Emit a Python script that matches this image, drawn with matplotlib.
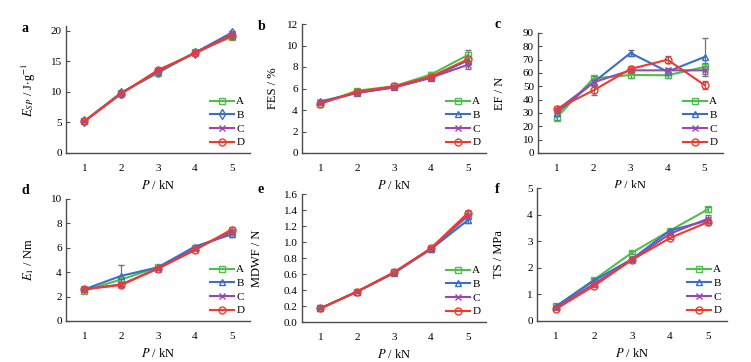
import matplotlib
matplotlib.use('Agg')
import matplotlib.pyplot as plt

plt.rcParams['font.family'] = ['Liberation Serif', 'DejaVu Serif']
plt.rcParams['mathtext.fontset'] = 'stix'

P = [1, 2, 3, 4, 5]
groups = ['A', 'B', 'C', 'D']

# a: specific energy
esp = {'A': [5.2, 9.9, 13.1, 16.5, 19.0],
       'B': [5.2, 9.8, 13.3, 16.4, 19.7],
       'C': [5.2, 9.8, 13.4, 16.4, 19.5],
       'D': [5.2, 9.7, 13.6, 16.3, 19.2]}
esp_err = {'A': [0.2, 0.3, 0.3, 0.3, 0.3],
           'B': [0.2, 0.3, 0.3, 0.3, 0.3],
           'C': [0.2, 0.3, 0.3, 0.3, 0.3],
           'D': [0.2, 0.3, 0.3, 0.3, 0.3]}

# b: FES
fes = {'A': [4.6, 5.8, 6.2, 7.3, 9.1],
       'B': [4.8, 5.6, 6.1, 7.0, 8.6],
       'C': [4.7, 5.6, 6.1, 7.0, 8.2],
       'D': [4.6, 5.7, 6.2, 7.1, 8.7]}
fes_err = {'A': [0.1, 0.2, 0.1, 0.2, 0.5],
           'B': [0.1, 0.2, 0.1, 0.2, 0.4],
           'C': [0.1, 0.2, 0.1, 0.2, 0.4],
           'D': [0.1, 0.2, 0.1, 0.2, 0.3]}

# c: EF
ef = {'A': [26.5, 56.0, 58.5, 58.3, 64.5],
      'B': [30.0, 53.0, 75.0, 61.0, 72.0],
      'C': [32.0, 53.0, 62.0, 62.0, 62.0],
      'D': [33.0, 47.0, 63.0, 70.0, 51.0]}
ef_err = {'A': [2.0, 2.0, 2.0, 2.0, 3.0],
          'B': [2.0, 2.0, 2.5, 2.0, 14.0],
          'C': [2.0, 2.0, 2.0, 2.0, 3.0],
          'D': [2.0, 3.5, 2.0, 2.5, 3.0]}

# d: E1
e1 = {'A': [2.5, 3.4, 4.4, 6.0, 7.3],
      'B': [2.6, 3.7, 4.4, 6.1, 7.1],
      'C': [2.6, 3.0, 4.3, 5.9, 7.3],
      'D': [2.6, 2.95, 4.3, 5.8, 7.5]}
e1_err = {'A': [0.1, 0.2, 0.1, 0.1, 0.2],
          'B': [0.1, 0.85, 0.1, 0.1, 0.2],
          'C': [0.1, 0.2, 0.1, 0.1, 0.2],
          'D': [0.1, 0.2, 0.1, 0.1, 0.2]}

# e: MDWF
mdwf = {'A': [0.17, 0.38, 0.62, 0.91, 1.32],
        'B': [0.17, 0.38, 0.61, 0.91, 1.27],
        'C': [0.17, 0.38, 0.62, 0.92, 1.33],
        'D': [0.17, 0.38, 0.62, 0.92, 1.36]}
mdwf_err = {'A': [0.01, 0.01, 0.01, 0.02, 0.03],
            'B': [0.01, 0.01, 0.01, 0.02, 0.03],
            'C': [0.01, 0.01, 0.01, 0.02, 0.03],
            'D': [0.01, 0.01, 0.01, 0.02, 0.03]}

# f: TS
ts = {'A': [0.55, 1.55, 2.57, 3.40, 4.20],
      'B': [0.55, 1.52, 2.33, 3.40, 3.78],
      'C': [0.50, 1.40, 2.30, 3.28, 3.85],
      'D': [0.45, 1.32, 2.30, 3.12, 3.72]}
ts_err = {'A': [0.05, 0.05, 0.05, 0.05, 0.1],
          'B': [0.05, 0.05, 0.05, 0.05, 0.1],
          'C': [0.05, 0.05, 0.05, 0.05, 0.15],
          'D': [0.05, 0.05, 0.05, 0.05, 0.1]}

colors = {'A': '#4dbf4a', 'B': '#3a6fc4', 'C': '#9a47b5', 'D': '#f03a2c'}
markers = {'A': 's', 'B': '^', 'C': 'x', 'D': 'o'}

W, H = 751, 362
fig = plt.figure(figsize=(W / 100, H / 100), dpi=100)

def px_axes(x0, x1, ytop, ybot):
    return fig.add_axes([x0 / W, 1 - ybot / H, (x1 - x0) / W, (ybot - ytop) / H])

panels = [
    # letter, data, err, ylim, yticks, ylabel, box(px), letter pos, ylabel x(px)
    ('a', esp, esp_err, (0, 20.8), [0, 5, 10, 15, 20], r'$E_{SP}$ / J$\cdot$g$^{-1}$',
     (66, 250, 26, 153), (22, 28), 38),
    ('b', fes, fes_err, (0, 12), [0, 2, 4, 6, 8, 10, 12], 'FES / %',
     (302, 486, 24, 153), (258, 27), 279),
    ('c', ef, ef_err, (0, 90), list(range(0, 91, 10)), 'EF / N',
     (538, 723, 33, 153), (494, 25), 506),
    ('d', e1, e1_err, (0, 10), [0, 2, 4, 6, 8, 10], r'$E_1$ / Nm',
     (66, 250, 199, 321), (22, 190), 36),
    ('e', mdwf, mdwf_err, (0, 1.6), [0.0, 0.2, 0.4, 0.6, 0.8, 1.0, 1.2, 1.4, 1.6], 'MDWF / N',
     (302, 486, 194, 322), (258, 189), 263),
    ('f', ts, ts_err, (0, 5), [0, 1, 2, 3, 4, 5], 'TS / MPa',
     (537, 727, 188, 321), (495, 189), 505),
]

for letter, data, err, ylim, yticks, ylabel, box, lpos, ylx in panels:
    x0, x1, yt, yb = box
    ax = px_axes(x0, x1, yt, yb)
    handles = []
    for g in groups:
        mk = markers[g]
        if letter == 'a' and g == 'B':
            mk = 'd'
        c = ax.errorbar(P, data[g], yerr=err[g], color=colors[g], marker=mk,
                        mfc='none', mec=colors[g], ms=5, mew=1.0, lw=1.5,
                        ecolor='0.45', elinewidth=0.9, capsize=2, label=g)
        handles.append(c[0])
    ax.set_xlim(0.5, 5.5)
    ax.set_ylim(*ylim)
    ax.set_xticks(P)
    ax.set_yticks(yticks)
    if letter == 'e':
        ax.set_yticklabels(['%.1f' % v for v in yticks])
    for s in ['top', 'right']:
        ax.spines[s].set_visible(False)
    for s in ['left', 'bottom']:
        ax.spines[s].set_color('0.3')
        ax.spines[s].set_linewidth(1.0)
    ax.tick_params(axis='y', direction='in', length=3, width=0.8, pad=3,
                   labelsize=8, color='0.3')
    ax.tick_params(axis='x', length=0, pad=8, labelsize=8)
    ax.set_xlabel(r'$P$ / kN', fontsize=9, labelpad=4)
    ax.set_ylabel(ylabel, fontsize=9)
    ax.yaxis.set_label_coords((ylx - x0) / (x1 - x0), 0.5)
    ax.legend(handles=handles, labels=groups, loc='lower right', frameon=False,
              fontsize=8, handlelength=2.2, handletextpad=0.2, labelspacing=0.35,
              borderaxespad=0.1)
    fig.text(lpos[0] / W, 1 - lpos[1] / H, letter, fontsize=10,
             fontweight='bold', ha='left', va='center')

fig.savefig('out.png', dpi=100)
